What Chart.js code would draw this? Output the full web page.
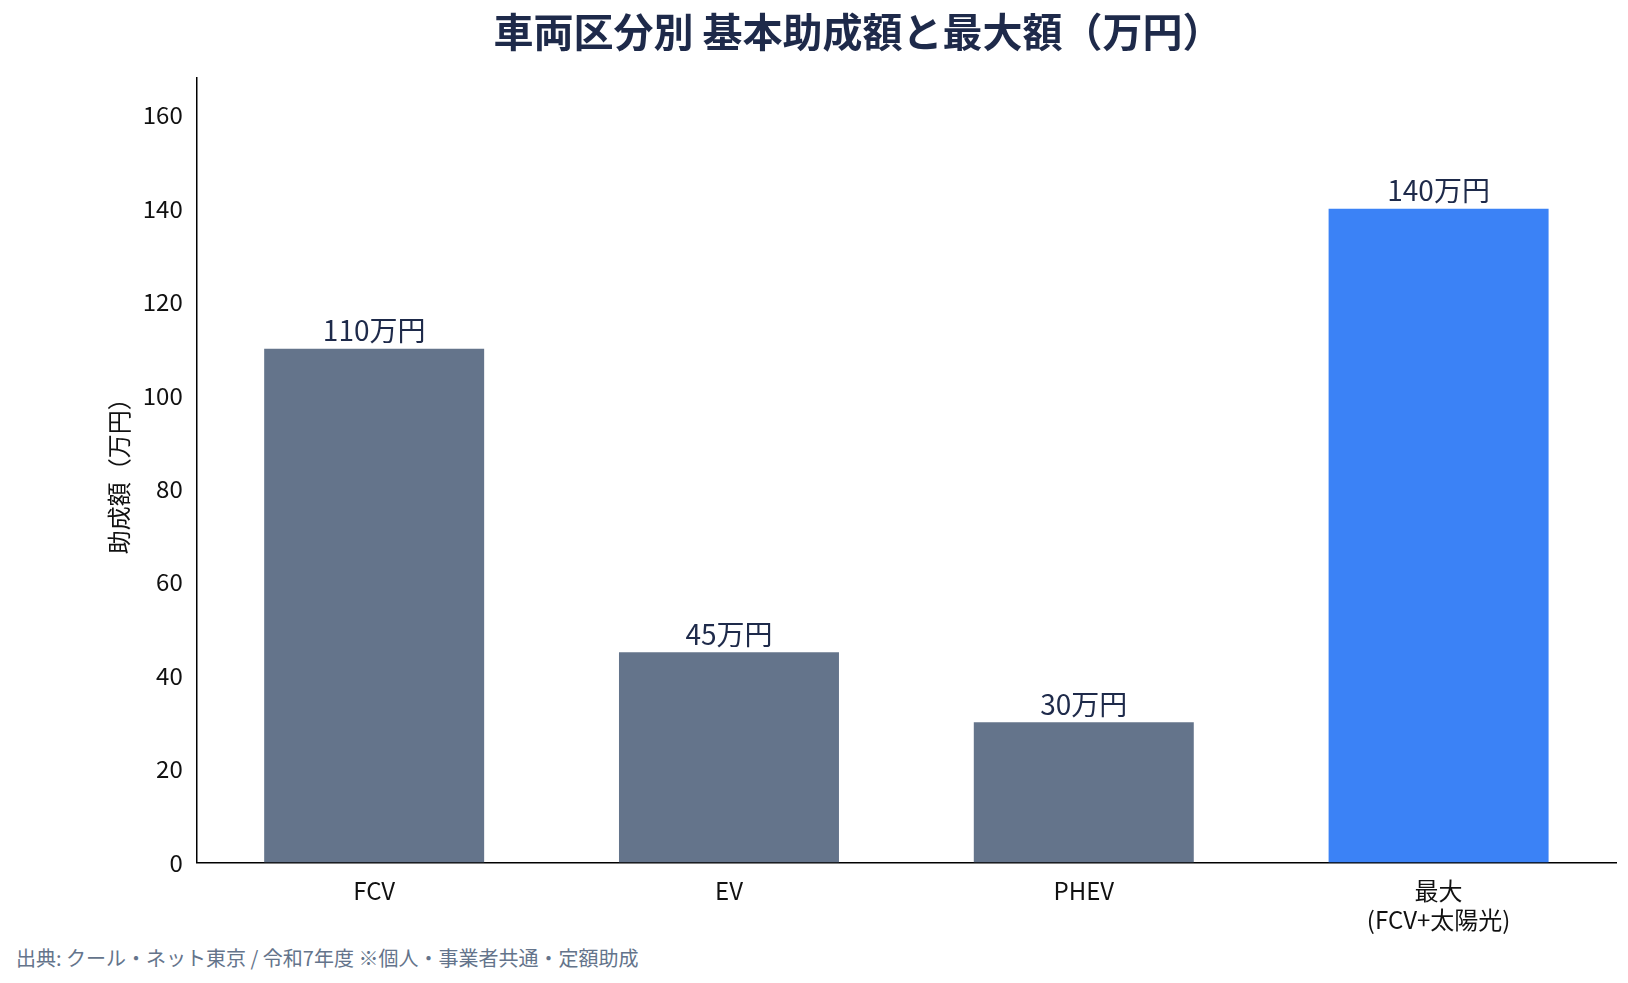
<!DOCTYPE html>
<html><head><meta charset="utf-8">
<script src="https://cdn.jsdelivr.net/npm/chart.js@4"></script>
<style>
html,body{margin:0;padding:0;background:#fff;}
#wrap{position:relative;width:1628px;height:983px;}
#note{position:absolute;left:16px;top:943px;font:20px "Noto Sans CJK JP","Noto Sans",sans-serif;color:#64748b;}
</style></head><body>
<div id="wrap"><canvas id="c" width="1628" height="940"></canvas><div id="note">出典: クール・ネット東京 / 令和7年度 ※個人・事業者共通・定額助成</div></div>
<script>
const categories = [["FCV"],["EV"],["PHEV"],["最大","(FCV+太陽光)"]];
const values = [110,45,30,140];
const valueLabels = ["110万円","45万円","30万円","140万円"];
const colors = ["#64748b","#64748b","#64748b","#3b82f6"];
const yTicks = [0,20,40,60,80,100,120,140,160];
const font = '"Noto Sans CJK JP","Noto Sans",sans-serif';
const labelPlugin = {id:'lbl',afterDatasetsDraw(chart){
  const ctx=chart.ctx; const meta=chart.getDatasetMeta(0);
  ctx.save(); ctx.font='28px '+font; ctx.fillStyle='#1e2a4a'; ctx.textAlign='center'; ctx.textBaseline='bottom';
  meta.data.forEach((b,i)=>ctx.fillText(valueLabels[i],b.x,b.y-4));
  ctx.restore();}};
new Chart(document.getElementById('c'),{
  type:'bar',
  data:{labels:categories,datasets:[{data:values,backgroundColor:colors,categoryPercentage:0.62,barPercentage:1}]},
  options:{responsive:false,animation:false,
    layout:{padding:{left:100,right:12,top:0,bottom:0}},
    plugins:{legend:{display:false},tooltip:{enabled:false},
      title:{display:true,text:'車両区分別 基本助成額と最大額（万円）',color:'#1e2a4a',font:{family:font,size:40},padding:{top:8,bottom:22}}},
    scales:{
      x:{grid:{display:false},border:{color:'#000',width:1.5},ticks:{color:'#111',font:{family:font,size:24},padding:6}},
      y:{min:0,max:168,afterBuildTicks(a){a.ticks=yTicks.map(v=>({value:v}));},grid:{display:false,drawTicks:true},
        border:{color:'#000',width:1.5},ticks:{color:'#111',font:{family:font,size:24},padding:6},
        title:{display:true,text:'助成額（万円）',color:'#111',font:{family:font,size:24}}}
    }},
  plugins:[labelPlugin]
});
</script></body></html>
